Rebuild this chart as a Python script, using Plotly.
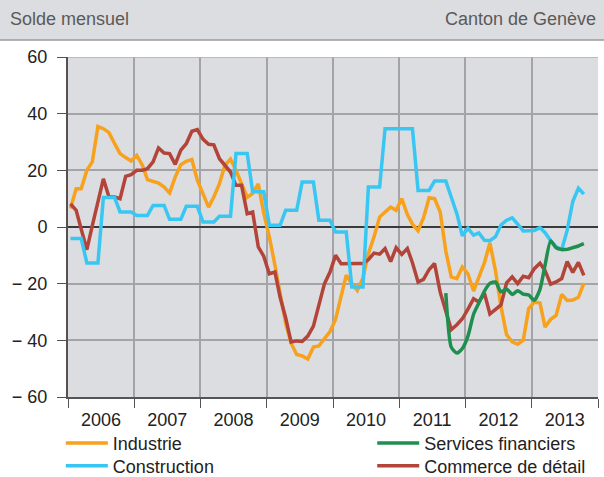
import pandas as pd
import plotly.graph_objects as go

# ---------------- data (monthly, Jan 2006 - Oct 2013) ----------------
start_month = "2006-01-01"
years = ["2006", "2007", "2008", "2009", "2010", "2011", "2012", "2013"]
y_ticks = [-60, -40, -20, 0, 20, 40, 60]
y_labels = ["\u2212 60", "\u2212 40", "\u2212 20", "0", "20", "40", "60"]

industrie = [
    6.5, 13.5, 13.5, 20, 23, 35.5, 34.7, 33.3, 29.4, 25.9, 24.5, 23.3,
    25.3, 21.8, 16.7, 16.2, 15.5, 14.1, 12, 17.6, 22, 23.2, 23.8, 16.5,
    12, 7, 10.6, 15.3, 21.8, 24, 20, 15, 10.5, 11.8, 15.2, 5,
    -3.5, -13.5, -24, -34, -41, -45, -45.5, -46.6, -42.4, -42, -39.4, -37,
    -32.6, -24.7, -17, -20, -22.4, -18, -9.4, -3.5, 3.5, 5.3, 7, 5.9,
    10, 4.4, 1, -1.3, 3.2, 10.3, 10, 5.3, -8.5, -17.6, -18.2, -14.1,
    -16.5, -22.6, -17.6, -12.6, -5.6, -15.5, -28, -38, -40.5, -41.4, -40, -28.8,
    -26.5, -26.8, -35.3, -32.6, -31.2, -23.8, -25.9, -25.8, -24.8, -19.8,
]

construction = [
    -4.1, -4.1, -4.1, -12.7, -12.7, -12.7, 10.4, 10.4, 10.4, 5.3, 5.3, 5.3,
    4.1, 4.1, 4.1, 7.6, 7.6, 7.6, 2.7, 2.7, 2.7, 7.3, 7.3, 7.3,
    1.8, 1.8, 1.8, 3.8, 3.8, 3.8, 25.9, 25.9, 25.9, 12.4, 12.4, 12.4,
    0.6, 0.6, 0.6, 5.9, 5.9, 5.9, 15.9, 15.9, 15.9, 2.4, 2.4, 2.4,
    -1.8, -1.8, -1.8, -21.2, -21.2, -21.2, 14.1, 14.1, 14.1, 34.7, 34.7, 34.7,
    34.7, 34.7, 34.7, 12.9, 12.9, 12.9, 16.2, 16.2, 16.2, 10.5, 4.7, -3.1,
    -0.4, -2.9, -2.1, -4.7, -4.8, -3.4, 0.7, 2.4, 3.2, 1, -1.4, -1.3,
    -1.2, -0.2, -2, -4.8, -7, -8, -1.2, 9, 13.7, 11.6,
]

commerce = [
    8.2, 5.9, -0.8, -8, 0.5, 8.8, 17, 10.6, 10.6, 10, 17.9, 18.5,
    20, 20, 20.6, 23, 27.9, 26.1, 25.9, 22.1, 27.1, 29.4, 33.8, 34.4,
    31, 29.2, 29, 24.1, 21.8, 19.4, 14.7, 14.7, 4.7, 5.3, -7, -10.3,
    -16.5, -15.9, -24.7, -32, -40.6, -40.2, -40.4, -38.5, -35, -28, -20, -16,
    -10, -13, -12.9, -12.7, -12.9, -12.9, -11.5, -9.2, -9.6, -7.6, -12.2, -7.3,
    -9.7, -7.6, -12.6, -19.4, -18.5, -15, -12.9, -23, -29.5, -36.2, -34.5, -32.4,
    -29, -25.3, -26.5, -23.4, -30.7, -29, -27.5, -19.7, -17.6, -20, -17.4, -17.9,
    -14.7, -12.8, -15.4, -20.2, -19.4, -18.2, -12.2, -16, -12.5, -17.1,
]

services_start = "2011-09-01"
services = [
    -23.3, -42.4, -44.5, -42.9,
    -38.5, -30.8, -26.8, -22.6, -19.9, -19.4, -22.9, -21.9, -23.8, -22.5, -23.7, -24,
    -25.9, -22, -13.5, -4.9, -7.3, -7.9, -7.9, -7.3, -6.7, -5.9,
]

# ---------------- build ----------------
mid = pd.Timedelta(days=14)
dates = pd.date_range(start_month, periods=len(industrie), freq="MS") + mid
dates_s = pd.date_range(services_start, periods=len(services), freq="MS") + mid

ORANGE = "#f7a11c"
CYAN = "#38c6f2"
GREEN = "#1f8f4f"
RED = "#b3443a"
FONT = "Liberation Sans, Arial, sans-serif"

fig = go.Figure()
fig.add_trace(go.Scatter(x=dates, y=industrie, name="Industrie", mode="lines",
                         line=dict(color=ORANGE, width=3.5), legend="legend"))
fig.add_trace(go.Scatter(x=dates, y=commerce, name="Commerce de détail", mode="lines",
                         line=dict(color=RED, width=3.5), legend="legend4"))
fig.add_trace(go.Scatter(x=dates, y=construction, name="Construction", mode="lines",
                         line=dict(color=CYAN, width=3.5), legend="legend3"))
fig.add_trace(go.Scatter(x=dates_s, y=services, name="Services financiers", mode="lines",
                         line=dict(color=GREEN, width=3.5, shape="spline", smoothing=0.6),
                         legend="legend2"))

year_mid = [f"{y}-07-02" for y in years]
year_bounds = [f"{y}-01-01" for y in years] + ["2014-01-01"]

legend_common = dict(orientation="v", yanchor="top", xanchor="left",
                     itemwidth=42, font=dict(size=18, color="#222222"),
                     bgcolor="rgba(0,0,0,0)", tracegroupgap=0)
row1, row2 = -0.082, -0.149
col1, col2 = -0.0135, 0.574

fig.update_layout(
    width=604, height=477,
    margin=dict(l=68, r=6, t=57, b=80, autoexpand=False),
    paper_bgcolor="white",
    plot_bgcolor="#dcdde0",
    font=dict(family=FONT, size=18, color="#222222"),
    showlegend=True,
    legend=dict(x=col1, y=row1, **legend_common),
    legend2=dict(x=col2, y=row1, **legend_common),
    legend3=dict(x=col1, y=row2, **legend_common),
    legend4=dict(x=col2, y=row2, **legend_common),
    xaxis=dict(
        type="date", range=["2006-01-01", "2014-01-01"],
        tickmode="array", tickvals=year_mid, ticktext=years,
        ticks="", showgrid=False, showline=True, linecolor="#555555", linewidth=1.5,
        tickfont=dict(size=18, color="#222222"), ticklabelstandoff=6,
        minor=dict(tickmode="array", tickvals=year_bounds, ticks="outside", ticklen=9,
                   tickcolor="#555555", tickwidth=1.3, showgrid=True,
                   gridcolor="#a4a4a6", gridwidth=1.5),
        zeroline=False, fixedrange=True,
    ),
    yaxis=dict(
        range=[-60, 60], tickmode="array", tickvals=y_ticks, ticktext=y_labels,
        ticks="outside", ticklen=9, tickcolor="#5a4f4f", tickwidth=1.3,
        showline=True, linecolor="#5a4f4f", linewidth=2,
        showgrid=True, gridcolor="#a4a4a6", gridwidth=1.5,
        zeroline=True, zerolinecolor="#3a3a3a", zerolinewidth=1.5,
        tickfont=dict(size=18, color="#222222"), ticklabelstandoff=6, fixedrange=True,
    ),
    shapes=[
        dict(type="rect", xref="paper", yref="paper", x0=-0.2, x1=1.1, y0=1.05, y1=1.3,
             fillcolor="#dcdde0", line=dict(width=0), layer="below"),
        dict(type="line", xref="paper", yref="paper", x0=-0.2, x1=1.1, y0=1.05, y1=1.05,
             line=dict(color="#9a9a9c", width=1.5)),
        dict(type="line", xref="paper", yref="y", x0=0, x1=1, y0=60, y1=60,
             line=dict(color="#bba9a6", width=1.5)),
    ],
    annotations=[
        dict(text="Solde mensuel", xref="paper", yref="paper", x=-0.1132, y=1.112,
             xanchor="left", yanchor="middle", showarrow=False,
             font=dict(size=18, color="#5a5a5a", family=FONT)),
        dict(text="Canton de Genève", xref="paper", yref="paper", x=1.0, y=1.112,
             xanchor="right", yanchor="middle", showarrow=False,
             font=dict(size=18, color="#5a5a5a", family=FONT)),
    ],
)

fig.write_html("out.html", config={"displayModeBar": False},
               post_script="document.body.style.margin='0';")
